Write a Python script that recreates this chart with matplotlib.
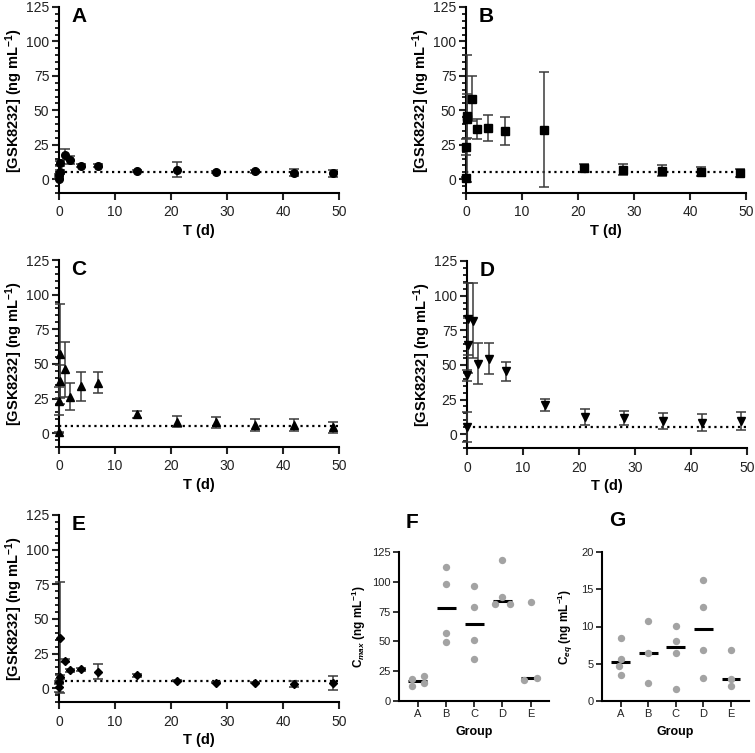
import numpy as np
import matplotlib
matplotlib.use('Agg')
import matplotlib.pyplot as plt
from matplotlib.ticker import MultipleLocator

plt.rcParams['font.family'] = ['Liberation Sans', 'DejaVu Sans']
plt.rcParams['mathtext.fontset'] = 'custom'
plt.rcParams['mathtext.rm'] = 'Liberation Sans'
plt.rcParams['mathtext.it'] = 'Liberation Sans:italic:bold'
plt.rcParams['mathtext.bf'] = 'Liberation Sans:bold'
plt.rcParams['axes.linewidth'] = 1.5

# sampling times (d)
t = [0, 0.042, 0.125, 0.25, 1, 2, 4, 7, 14, 21, 28, 35, 42, 49]

# group mean and SD of [GSK8232] (ng/mL)
a_mean = [0.5, 3.0, 5.0, 11.5, 17.9, 13.8, 9.7, 9.7, 6.0, 7.0, 5.3, 5.8, 4.8, 4.3]
a_sd = [0.3, 1.0, 1.5, 2.0, 4.0, 3.0, 1.0, 1.0, 1.0, 5.5, 1.0, 1.0, 2.5, 2.5]
b_mean = [1.2, 23.5, 44.0, 46.0, 58.5, 36.5, 37.2, 35.0, 36.0, 8.2, 7.0, 6.3, 5.6, 4.6]
b_sd = [0.5, 6.0, 46.0, 16.0, 16.5, 7.5, 9.5, 10.5, 42.0, 3.0, 4.0, 4.0, 3.5, 3.0]
c_mean = [0.5, 23.0, 37.5, 57.0, 46.0, 26.4, 34.0, 36.5, 13.7, 8.4, 7.7, 6.0, 6.0, 4.3]
c_sd = [0.3, 10.0, 12.0, 36.0, 20.0, 9.5, 10.5, 7.5, 2.5, 4.0, 4.0, 4.5, 4.5, 4.0]
d_mean = [5.3, 42.5, 64.0, 83.0, 82.0, 51.0, 54.6, 45.4, 21.0, 12.5, 11.8, 9.4, 8.4, 9.4]
d_sd = [11.0, 4.0, 20.0, 26.0, 27.0, 14.5, 11.5, 7.0, 4.5, 6.0, 5.0, 5.8, 5.8, 6.5]
e_mean = [0.5, 4.3, 8.0, 36.4, 19.8, 13.0, 13.5, 12.0, 9.2, 5.3, 3.9, 3.9, 3.1, 3.9]
e_sd = [3.0, 1.0, 1.5, 40.0, 1.0, 1.0, 1.0, 5.5, 1.0, 0.5, 0.5, 0.5, 2.0, 5.0]
lloq = 5

groups = ['A', 'B', 'C', 'D', 'E']
cmax = [[18.8, 12.9, 21.3, 14.9],
        [112.4, 98.4, 56.9, 49.9],
        [96.4, 78.5, 51.3, 35.0],
        [118.0, 87.2, 81.3, 81.3],
        [82.7, 17.7, 19.1]]
ceq = [[8.5, 5.7, 4.7, 3.5],
       [10.7, 6.5, 2.4],
       [10.1, 8.1, 6.4, 1.6],
       [16.3, 12.6, 6.8, 3.1],
       [6.8, 3.0, 2.0]]

# horizontal spread of overlapping dots
cmax_dx = [[-0.22, -0.22, 0.22, 0.22], [0, 0, 0, 0], [0, 0, 0, 0],
           [0, 0, -0.25, 0.25], [0, -0.24, 0.22]]
ceq_dx = [[0, 0, -0.05, 0], [0, 0, 0], [0, 0, 0, 0], [0, 0, 0, 0], [0, 0, 0]]

W, H = 755, 753
fig = plt.figure(figsize=(W / 100, H / 100), dpi=100)


def box(l, t_, r, b):
    return [l / W, 1 - b / H, (r - l) / W, (b - t_) / H]


ylab = r'[GSK8232] (ng mL$^{\mathbf{-1}}$)'
panels = [('A', a_mean, a_sd, 'o', 5.5, box(59, 7, 339, 193)),
          ('B', b_mean, b_sd, 's', 5.2, box(466, 7, 746, 193)),
          ('C', c_mean, c_sd, '^', 5.8, box(59, 260, 339, 447)),
          ('D', d_mean, d_sd, 'v', 5.8, box(467, 261, 747, 448)),
          ('E', e_mean, e_sd, 'D', 4.0, box(59, 515, 339, 702))]

for name, m, s, mk, ms, pos in panels:
    ax = fig.add_axes(pos)
    ax.plot([0, 50], [lloq, lloq], ':', color='black', lw=1.6, zorder=1)
    eb = ax.errorbar(t, m, yerr=s, fmt=mk, color='black', ms=ms,
                     ecolor='#3a3a3a', elinewidth=1.1, capsize=3.8,
                     capthick=1.1, clip_on=False, zorder=3)
    for art in eb.lines[1] + eb.lines[2]:
        art.set_clip_on(False)
    ax.set_xlim(0, 50)
    ax.set_ylim(-10, 125)
    ax.xaxis.set_major_locator(MultipleLocator(10))
    ax.yaxis.set_major_locator(MultipleLocator(25))
    ax.yaxis.set_minor_locator(MultipleLocator(5))
    ax.spines['top'].set_visible(False)
    ax.spines['right'].set_visible(False)
    ax.tick_params(which='major', length=5, width=1.5, labelsize=10, pad=2,
                   colors='#222222')
    ax.tick_params(which='minor', length=3, width=1.2)
    ax.tick_params(axis='x', pad=4)
    ax.set_xlabel('T (d)', fontsize=10.5, fontweight='bold', labelpad=3)
    ax.set_ylabel(ylab, fontsize=10.5, fontweight='bold')
    ax.yaxis.set_label_coords(-0.12, 0.5)
    ax.text(0.045, 1.0, name, transform=ax.transAxes, fontsize=15,
            fontweight='bold', va='top', ha='left')

dot_col = '#a3a3a3'
summary = [('F', cmax, cmax_dx, 125, 25,
            r'$\mathbf{C}_{\mathit{max}}$ (ng mL$^{\mathbf{-1}}$)',
            box(399, 552, 549, 701), 412, 522, -0.205),
           ('G', ceq, ceq_dx, 20, 5,
            r'$\mathbf{C}_{\mathit{eq}}$ (ng mL$^{\mathbf{-1}}$)',
            box(602, 552, 749, 701), 617, 520, -0.185)]

for name, vals, dxs, top, step, lab, pos, tx, ty, lx in summary:
    ax = fig.add_axes(pos)
    for i, (v, dx) in enumerate(zip(vals, dxs)):
        ax.plot(np.array(dx) + i, v, 'o', color=dot_col, ms=5.3, mec='none',
                zorder=3, clip_on=False)
        ax.hlines(np.median(v), i - 0.34, i + 0.34, color='black', lw=2.2,
                  zorder=2)
    ax.set_xlim(-0.67, 4.65)
    ax.set_ylim(0, top)
    ax.set_xticks(range(len(groups)))
    ax.set_xticklabels(groups)
    ax.yaxis.set_major_locator(MultipleLocator(step))
    ax.spines['top'].set_visible(False)
    ax.spines['right'].set_visible(False)
    ax.tick_params(length=4, width=1.3, labelsize=8, pad=2, colors='#222222')
    ax.set_xlabel('Group', fontsize=9, fontweight='bold', labelpad=5)
    ax.set_ylabel(lab, fontsize=8.5, fontweight='bold')
    ax.yaxis.set_label_coords(lx, 0.5)
    fig.text(tx / W, 1 - ty / H, name, fontsize=15, fontweight='bold',
             ha='center', va='center')

fig.savefig('out.png', dpi=100)
